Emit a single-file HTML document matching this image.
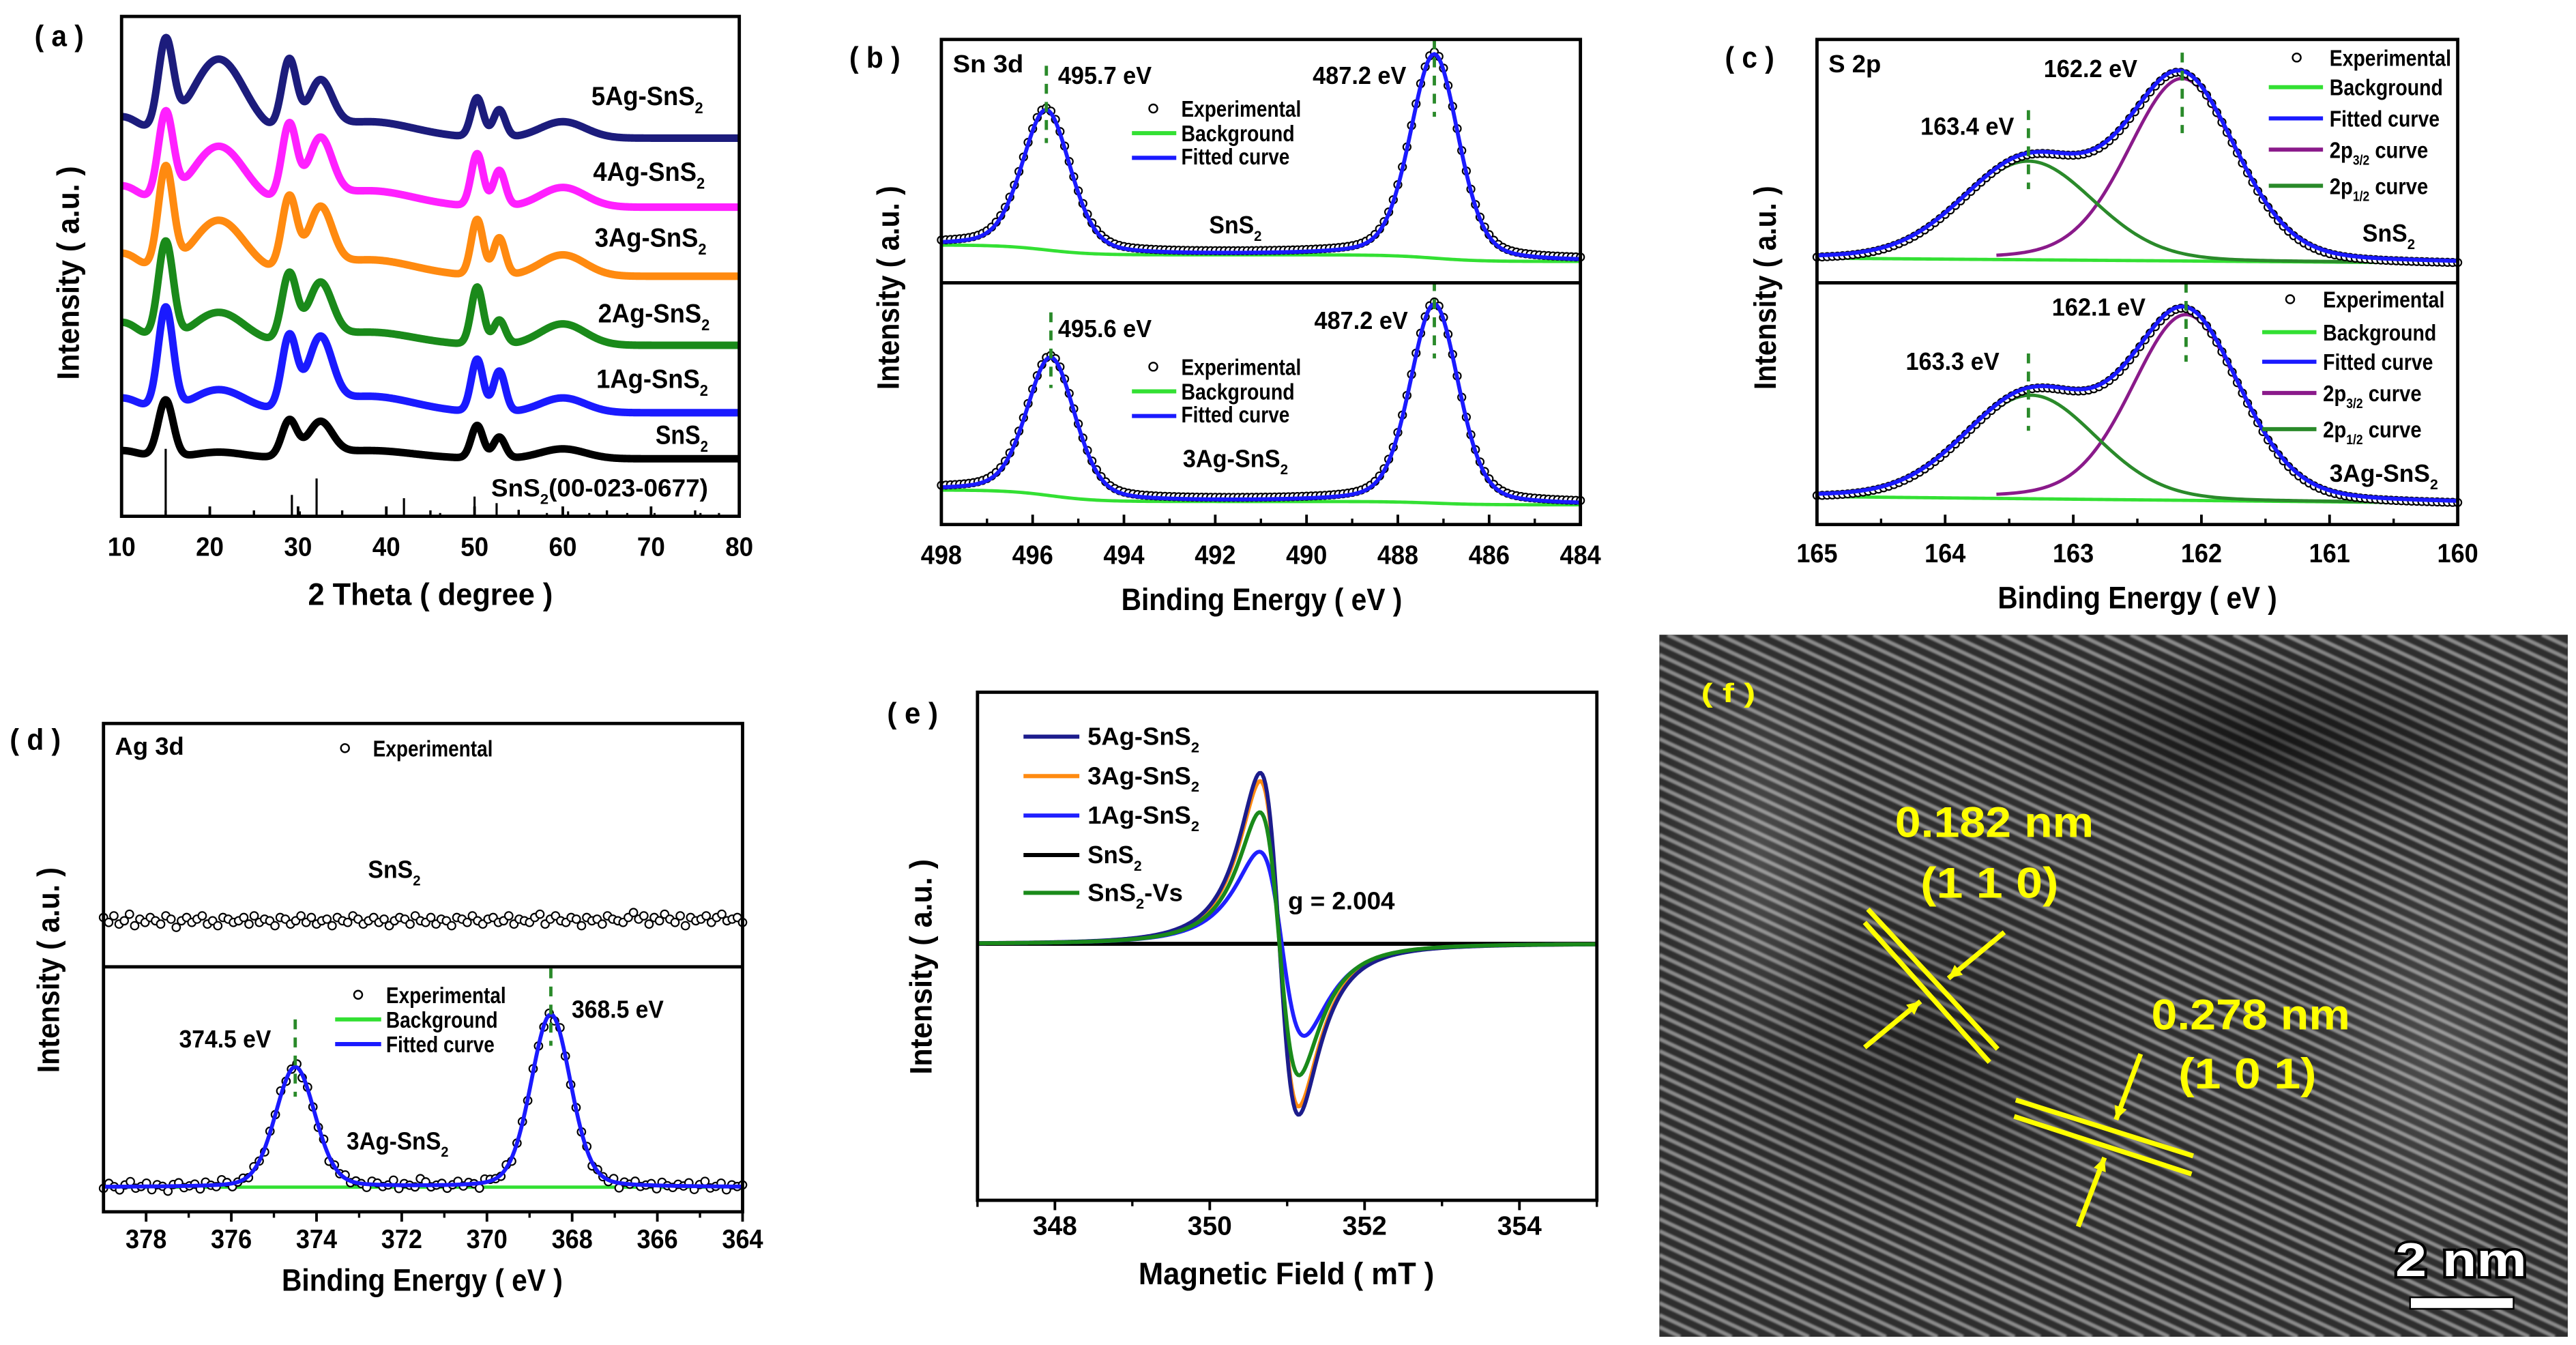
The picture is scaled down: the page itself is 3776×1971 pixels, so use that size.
<!DOCTYPE html>
<html>
<head>
<meta charset="utf-8">
<title>SnS2 characterization figure</title>
<style>
html,body{margin:0;padding:0;background:#fff;width:3776px;height:1971px;overflow:hidden;}
svg{display:block;font-family:"Liberation Sans",Arial,sans-serif;font-weight:bold;}
</style>
</head>
<body>
<svg id="fig" xmlns="http://www.w3.org/2000/svg" width="3776" height="1971" viewBox="0 0 1568 818" preserveAspectRatio="none" overflow="hidden">
<defs>
<filter id="soft"><feGaussianBlur stdDeviation="0.6"/></filter>
<radialGradient id="dark1"><stop offset="0" stop-color="#000" stop-opacity="0.55"/><stop offset="1" stop-color="#000" stop-opacity="0"/></radialGradient>
<radialGradient id="light1"><stop offset="0" stop-color="#fff" stop-opacity="0.15"/><stop offset="1" stop-color="#fff" stop-opacity="0"/></radialGradient>
<clipPath id="imgclip"><rect x="1010" y="386" width="553" height="427"/></clipPath>
</defs>
</svg>
<script>
// ---------- DATA ----------
// (a) XRD
const xrdSeries = ['5Ag-SnS2','4Ag-SnS2','3Ag-SnS2','2Ag-SnS2','1Ag-SnS2','SnS2'];
const xrdColors = ['#1c1c7c','#ff20ff','#ff8a10','#1a8a1a','#1a1aff','#000000'];
const xrdOffsets = [230,188,146,104,63,35];
const xrdLeftBg = [13,13,14,14,9,5];
const xrdPeakPos = [15,21,29,32.5,38,50.3,52.8,60];
const xrdPeakHwhm = [1.0,3.5,1.0,1.6,6,0.8,0.8,3];
const xrd5Ag = [54,48,44,30,10,24,17,10];
const xrd4Ag = [53,37,47,37,10,32,22,12];
const xrd3Ag = [62,34,45,37,10,34,23,13];
const xrd2Ag = [60,20,41,34,8,35,15,13];
const xrd1Ag = [62,14,44,41,10,32,25,9];
const xrdSnS2 = [35,4,22,20,5,20,13,6];
const xrdHeights = [xrd5Ag,xrd4Ag,xrd3Ag,xrd2Ag,xrd1Ag,xrdSnS2];
const refPos = [15,29.3,30.2,32.1,42,46.1,50,52.5,55,58.2,60.6,63,67.3,70.4,75.6,77.7];
const refH = [41,13,3,23,11,2,12,8,4,2,3,2,2,2,2,2];
const xrdTicks = [10,20,30,40,50,60,70,80];
// (b) Sn 3d
const snTopPos = [495.7,487.2];
const snTopH = [85,124];
const snBotPos = [495.6,487.2];
const snBotH = [84,121];
const snFwhm = [1.25,1.25];
const snTopBg = [13,4,6];
const snBotBg = [12,2,7];
const snTicks = [498,496,494,492,490,488,486,484];
// (c) S 2p
const sTopPos = [162.15,163.35];
const sTopH = [111,60];
const sBotPos = [162.12,163.33];
const sBotH = [113,63];
const sFwhm = [1.0,1.2];
const sTopBg = [15,12];
const sBotBg = [17,13];
const sTicks = [165,164,163,162,161,160];
// (d) Ag 3d
const agPos = [374.5,368.5];
const agH = [73,105];
const agFwhm = [1.1,1.1];
const agBg = 15;
const agTopLevel = 28;
const agTopNoise = [2,-1,3,-2,0,4,-3,1,-1,2,0,-2,3,1,-4,0,2,-1,1,3,-2,0,-3,2,1,-1,0,2,-2,3,-1,1,0,-3,2,1,-2,0,3,-1,2,-2,0,1,-3,2,0,-1,3,1,-2,0,2,-1,1,-3,0,2,1,-2,3,0,-1,2,-2,1,0,-3,2,1,-1,3,0,-2,1,2,-1,0,3,-2,1,0,-1,2,4,-2,1,3,0,-1,2,1,-3,2,0,1,-2,3,1,0,-1,2,5,1,3,-2,2,0,4,1,-1,3,-3,2,0,1,3,-1,2,4,0,1,2,-1];
const agBotNoise = [-1,2,0,-2,1,3,-1,0,2,-2,1,0,-3,1,2,-1,0,1,-2,2,0,-1,3,1,-2,0,1,-1,2,0,-2,1,0,3,-1,0,2,-2,1,0,-1,2,-3,1,0,2,-1,1,0,-2,2,1,-1,0,3,-2,1,0,-1,4,2,-1,0,1,-2,0,2,-1,1,0,-3,2,1,0,-1,2,-2,0,1,-1,2,0,-1,1,-2,3,0,-1,1,0,2,-2,1,0,-1,2,-3,1,0,2,-1,0,1,-2,2,0,-1,1,0,2,-2,1,3,-1,0,2,-2,1,0,1];
const agTicks = [378,376,374,372,370,368,366,364];
// (e) EPR
const eprSeries = ['5Ag-SnS2','3Ag-SnS2','1Ag-SnS2','SnS2','SnS2-Vs'];
const eprColors = ['#1c1c8c','#ff8a10','#2020ff','#000000','#1a8a1a'];
const eprCenter = [350.9,350.9,350.93,350.9,350.9];
const eprAmp = [104,99,56,0,80];
const eprWidth = [0.43,0.43,0.5,0.43,0.44];
const eprTicks = [348,350,352,354];

// ---------- HELPERS ----------
const NS = 'http://www.w3.org/2000/svg';
const svg = document.getElementById('fig');
function mk(tag, attrs, name, parent) {
  const el = document.createElementNS(NS, tag);
  for (const k in attrs) el.setAttribute(k, attrs[k]);
  
  
  (parent || svg).appendChild(el);
  return el;
}
function T(x, y, str, size, o) {
  o = o || {};
  const el = mk('text', {x: x, y: y, 'font-size': size, 'text-anchor': o.anchor || 'start', fill: o.fill || '#000'}, o.name || 'label', o.parent);
  if (o.w) { el.setAttribute('textLength', o.w); el.setAttribute('lengthAdjust', 'spacingAndGlyphs'); }
  if (o.rot) el.setAttribute('transform', 'rotate(-90 ' + x + ' ' + y + ')');
  if (o.stroke) { el.setAttribute('stroke', o.stroke); el.setAttribute('stroke-width', o.sw || 2); el.setAttribute('paint-order', 'stroke'); }
  const parts = str.split(/(\{[^}]*\})/).filter(p => p.length);
  let lowered = false;
  parts.forEach(p => {
    if (p[0] === '{') {
      const ts = mk('tspan', {'font-size': size * 0.6, dy: size * 0.3}, 'subscript', el);
      ts.textContent = p.slice(1, -1);
      lowered = true;
    } else {
      const ts = mk('tspan', lowered ? {dy: -size * 0.3} : {}, 'text-run', el);
      ts.textContent = p;
      lowered = false;
    }
  });
  return el;
}
function L(x1, y1, x2, y2, stroke, sw, name, extra, parent) {
  const a = {x1: x1, y1: y1, x2: x2, y2: y2, stroke: stroke, 'stroke-width': sw};
  if (extra) for (const k in extra) a[k] = extra[k];
  return mk('line', a, name, parent);
}
function P(pts, stroke, sw, name) {
  const d = pts.map((p, i) => (i ? 'L' : 'M') + p[0].toFixed(2) + ',' + p[1].toFixed(2)).join('');
  return mk('path', {d: d, fill: 'none', stroke: stroke, 'stroke-width': sw, 'stroke-linejoin': 'round'}, name);
}
function scale(d0, d1, p0, p1) { return v => p0 + (v - d0) / (d1 - d0) * (p1 - p0); }
function box(x0, y0, x1, y1, name) { mk('rect', {x: x0, y: y0, width: x1 - x0, height: y1 - y0, fill: 'none', stroke: '#000', 'stroke-width': 2}, name); }
function pv(x, c, fw, eta) { const t = (x - c) / fw; return eta / (1 + 4 * t * t) + (1 - eta) * Math.exp(-4 * Math.LN2 * t * t); }
function ticks(sx, vals, yAxis, dir, len, labelY, w, prefix) {
  vals.forEach((v, i) => {
    L(sx(v), yAxis, sx(v), yAxis + dir * len, '#000', 1.6, prefix + '-major-tick');
    T(sx(v), labelY, String(v), 16, {anchor: 'middle', w: w, name: prefix + '-tick-label'});
    if (i < vals.length - 1) {
      const m = (v + vals[i + 1]) / 2;
      L(sx(m), yAxis, sx(m), yAxis + dir * len * 0.6, '#000', 1.4, prefix + '-minor-tick');
    }
  });
}
function circles(pts, r, name) {
  pts.forEach(p => { mk('circle', {cx: p[0], cy: p[1], r: r, fill: '#fff', stroke: '#000', 'stroke-width': 0.9}, name); });
}
function dashMark(x, y0, y1, name) { L(x, y0, x, y1, '#2a8a2a', 2, name, {'stroke-dasharray': '6,5'}); }

// ---------- PANEL A ----------
(function () {
  const sx = scale(10, 80, 74, 450);
  const sy = v => 314 - v;
  T(21, 28, '( a )', 18, {w: 30, name: 'panel-a-label'});
  xrdSeries.forEach((nm, i) => {
    const pts = [];
    for (let x = 10; x <= 80.001; x += 0.07) {
      let v = xrdOffsets[i] + xrdLeftBg[i] * Math.exp(-Math.pow((x - 10) / 3, 2));
      xrdPeakPos.forEach((c, k) => { v += xrdHeights[i][k] * Math.exp(-Math.LN2 * Math.pow((x - c) / xrdPeakHwhm[k], 2)); });
      pts.push([sx(x), sy(v)]);
    }
    P(pts, xrdColors[i], 4.6, 'xrd-curve-' + nm.toLowerCase());
  });
  refPos.forEach((p, i) => { L(sx(p), 314, sx(p), sy(refH[i]), '#000', 1.3, 'reference-stick'); });
  box(74, 10, 450, 314, 'panel-a-plot-frame');
  ticks(sx, xrdTicks, 314, -1, 6, 338, 17, 'xrd-x');
  const lbl = [['5Ag-SnS{2}', 360, 64], ['4Ag-SnS{2}', 361, 110], ['3Ag-SnS{2}', 362, 150], ['2Ag-SnS{2}', 364, 196], ['1Ag-SnS{2}', 363, 236], ['SnS{2}', 399, 270]];
  lbl.forEach(l => T(l[1], l[2], l[0], 16, {w: l[0].length > 8 ? 68 : 32, name: 'series-label'}));
  T(299, 302, 'SnS{2}(00-023-0677)', 15, {w: 132, name: 'reference-label'});
  T(262, 368, '2 Theta ( degree )', 19, {anchor: 'middle', w: 149, name: 'x-axis-title'});
  T(48, 166, 'Intensity ( a.u. )', 19, {anchor: 'middle', w: 130, rot: true, name: 'y-axis-title'});
})();

// ---------- PANEL B ----------
(function () {
  const sx = scale(498, 484, 573, 962);
  const step = (x, c) => 1 / (1 + Math.exp(-(x - c) / 0.5));
  function fit(x, pos, h, bg) {
    let v = bg[0] + bg[1] * step(x, pos[1]) + bg[2] * step(x, pos[0]);
    pos.forEach((c, k) => { v += h[k] * pv(x, c, snFwhm[k], 0.3); });
    return v;
  }
  function bgv(x, pos, bg) { return bg[0] + bg[1] * step(x, pos[1]) + bg[2] * step(x, pos[0]); }
  [[snTopPos, snTopH, snTopBg, 172, 'top'], [snBotPos, snBotH, snBotBg, 319, 'bottom']].forEach(s => {
    const [pos, h, bg, yb, tag] = s;
    const bgp = [], fp = [], cp = [];
    for (let x = 498; x >= 483.99; x -= 0.05) { bgp.push([sx(x), yb - bgv(x, pos, bg)]); fp.push([sx(x), yb - fit(x, pos, h, bg)]); }
    for (let x = 498; x >= 483.99; x -= 0.1) cp.push([sx(x), yb - fit(x, pos, h, bg) - 1.2]);
    P(bgp, '#33e033', 2, 'sn-background-' + tag);
    circles(cp, 2.3, 'sn-experimental-point');
    P(fp, '#1a1aff', 2.4, 'sn-fitted-curve-' + tag);
  });
  dashMark(sx(495.7), 40, 87, 'sn-peak-marker');
  dashMark(sx(487.2), 24, 71, 'sn-peak-marker');
  dashMark(sx(495.6), 190, 236, 'sn-peak-marker');
  dashMark(sx(487.2), 171, 218, 'sn-peak-marker');
  box(573, 24, 962, 319, 'panel-b-plot-frame');
  L(573, 172, 962, 172, '#000', 2, 'panel-b-divider');
  ticks(sx, snTicks, 319, -1, 6, 343, 25, 'sn-x');
  T(517, 41, '( b )', 18, {w: 31, name: 'panel-b-label'});
  T(580, 44, 'Sn 3d', 15, {w: 43, name: 'sn-region-label'});
  T(644, 51, '495.7 eV', 15, {w: 57, name: 'peak-label'});
  T(799, 51, '487.2 eV', 15, {w: 57, name: 'peak-label'});
  T(644, 205, '495.6 eV', 15, {w: 57, name: 'peak-label'});
  T(800, 200, '487.2 eV', 15, {w: 57, name: 'peak-label'});
  [[66, 'top'], [223, 'bottom']].forEach(l => {
    const y = l[0];
    mk('circle', {cx: 702, cy: y, r: 2.5, fill: '#fff', stroke: '#000', 'stroke-width': 1}, 'legend-experimental-marker');
    T(719, y + 5, 'Experimental', 14, {w: 73, name: 'legend-entry'});
    L(689, y + 15, 716, y + 15, '#33e033', 2.5, 'legend-background-line');
    T(719, y + 20, 'Background', 14, {w: 69, name: 'legend-entry'});
    L(689, y + 30, 716, y + 30, '#1a1aff', 2.5, 'legend-fitted-line');
    T(719, y + 34, 'Fitted curve', 14, {w: 66, name: 'legend-entry'});
  });
  T(736, 142, 'SnS{2}', 15, {w: 32, name: 'sample-label'});
  T(720, 284, '3Ag-SnS{2}', 15, {w: 64, name: 'sample-label'});
  T(768, 371, 'Binding Energy ( eV )', 19, {anchor: 'middle', w: 171, name: 'x-axis-title'});
  T(547, 175, 'Intensity ( a.u. )', 19, {anchor: 'middle', w: 124, rot: true, name: 'y-axis-title'});
})();

// ---------- PANEL C ----------
(function () {
  const sx = scale(165, 160, 1106, 1496);
  const bgAt = (x, bg) => bg[1] + (bg[0] - bg[1]) * (x - 160) / 5;
  [[sTopPos, sTopH, sTopBg, 172, 'top'], [sBotPos, sBotH, sBotBg, 319, 'bottom']].forEach(s => {
    const [pos, h, bg, yb, tag] = s;
    const bgp = [], p32 = [], p12 = [], fp = [], cp = [];
    for (let x = 165; x >= 159.99; x -= 0.02) {
      const b = bgAt(x, bg);
      const c1 = h[0] * pv(x, pos[0], sFwhm[0], 0.2), c2 = h[1] * pv(x, pos[1], sFwhm[1], 0.1);
      bgp.push([sx(x), yb - b]);
      if (x <= 163.6 && x >= 160.5) p32.push([sx(x), yb - b - c1]);
      p12.push([sx(x), yb - b - c2]);
      fp.push([sx(x), yb - b - c1 - c2]);
    }
    for (let x = 165; x >= 159.99; x -= 0.04) {
      const b = bgAt(x, bg);
      cp.push([sx(x), yb - b - h[0] * pv(x, pos[0], sFwhm[0], 0.2) - h[1] * pv(x, pos[1], sFwhm[1], 0.1) + 1]);
    }
    P(bgp, '#33e033', 2, 's-background-' + tag);
    P(p32, '#8a1a8a', 2, 's-2p32-curve-' + tag);
    P(p12, '#2a8a2a', 2, 's-2p12-curve-' + tag);
    circles(cp, 2.3, 's-experimental-point');
    P(fp, '#1a1aff', 2.4, 's-fitted-curve-' + tag);
  });
  dashMark(sx(163.35), 67, 115, 's-peak-marker');
  dashMark(sx(162.15), 32, 81, 's-peak-marker');
  dashMark(sx(163.35), 215, 262, 's-peak-marker');
  dashMark(sx(162.12), 172, 220, 's-peak-marker');
  box(1106, 24, 1496, 319, 'panel-c-plot-frame');
  L(1106, 172, 1496, 172, '#000', 2, 'panel-c-divider');
  ticks(sx, sTicks, 319, -1, 6, 342, 25, 's-x');
  T(1050, 41, '( c )', 18, {w: 30, name: 'panel-c-label'});
  T(1113, 44, 'S 2p', 15, {w: 32, name: 's-region-label'});
  T(1244, 47, '162.2 eV', 15, {w: 57, name: 'peak-label'});
  T(1169, 82, '163.4 eV', 15, {w: 57, name: 'peak-label'});
  T(1249, 192, '162.1 eV', 15, {w: 57, name: 'peak-label'});
  T(1160, 225, '163.3 eV', 15, {w: 57, name: 'peak-label'});
  [[35, 1398, 1418, 18, 37, 56, 78], [182, 1394, 1414, 20, 38, 57, 79]].forEach(l => {
    const [y, cx, tx, d1, d2, d3, d4] = l;
    mk('circle', {cx: cx, cy: y, r: 2.5, fill: '#fff', stroke: '#000', 'stroke-width': 1}, 'legend-experimental-marker');
    T(tx, y + 5, 'Experimental', 14, {w: 74, name: 'legend-entry'});
    L(tx - 37, y + d1, tx - 4, y + d1, '#33e033', 2.5, 'legend-background-line');
    T(tx, y + d1 + 5, 'Background', 14, {w: 69, name: 'legend-entry'});
    L(tx - 37, y + d2, tx - 4, y + d2, '#1a1aff', 2.5, 'legend-fitted-line');
    T(tx, y + d2 + 5, 'Fitted curve', 14, {w: 67, name: 'legend-entry'});
    L(tx - 37, y + d3, tx - 4, y + d3, '#8a1a8a', 2.5, 'legend-2p32-line');
    T(tx, y + d3 + 5, '2p{3/2} curve', 14, {w: 60, name: 'legend-entry'});
    L(tx - 37, y + d4, tx - 4, y + d4, '#2a8a2a', 2.5, 'legend-2p12-line');
    T(tx, y + d4 + 5, '2p{1/2} curve', 14, {w: 60, name: 'legend-entry'});
  });
  T(1438, 147, 'SnS{2}', 15, {w: 32, name: 'sample-label'});
  T(1418, 293, '3Ag-SnS{2}', 15, {w: 66, name: 'sample-label'});
  T(1301, 370, 'Binding Energy ( eV )', 19, {anchor: 'middle', w: 170, name: 'x-axis-title'});
  T(1081, 175, 'Intensity ( a.u. )', 19, {anchor: 'middle', w: 124, rot: true, name: 'y-axis-title'});
})();

// ---------- PANEL D ----------
(function () {
  const sx = scale(379, 364, 63, 452);
  const n = agTopNoise.length;
  const top = agTopNoise.map((e, i) => { const x = 379 - 15 * i / (n - 1); return [sx(x), 588 - agTopLevel - e]; });
  circles(top, 2.4, 'ag-snS2-experimental-point');
  const fit = x => agBg + agPos.reduce((s, c, k) => s + agH[k] * pv(x, c, agFwhm[k], 0.2), 0);
  const bgp = [], fp = [];
  for (let x = 379; x >= 363.99; x -= 0.05) { bgp.push([sx(x), 737 - agBg]); fp.push([sx(x), 737 - fit(x)]); }
  P(bgp, '#33e033', 2, 'ag-background');
  const m = agBotNoise.length;
  const bot = agBotNoise.map((e, i) => { const x = 379 - 15 * i / (m - 1); return [sx(x), 737 - fit(x) - e]; });
  circles(bot, 2.4, 'ag-experimental-point');
  P(fp, '#1a1aff', 2.4, 'ag-fitted-curve');
  dashMark(sx(374.5), 620, 667, 'ag-peak-marker');
  dashMark(sx(368.5), 589, 636, 'ag-peak-marker');
  box(63, 440, 452, 737, 'panel-d-plot-frame');
  L(63, 588, 452, 588, '#000', 2, 'panel-d-divider');
  ticks(sx, agTicks, 737, 1, 6, 759, 25, 'ag-x');
  T(6, 456, '( d )', 18, {w: 31, name: 'panel-d-label'});
  T(70, 459, 'Ag 3d', 15, {w: 42, name: 'ag-region-label'});
  mk('circle', {cx: 210, cy: 455, r: 2.5, fill: '#fff', stroke: '#000', 'stroke-width': 1}, 'legend-experimental-marker');
  T(227, 460, 'Experimental', 14, {w: 73, name: 'legend-entry'});
  T(224, 534, 'SnS{2}', 15, {w: 32, name: 'sample-label'});
  mk('circle', {cx: 218, cy: 605, r: 2.5, fill: '#fff', stroke: '#000', 'stroke-width': 1}, 'legend-experimental-marker');
  T(235, 610, 'Experimental', 14, {w: 73, name: 'legend-entry'});
  L(204, 620, 232, 620, '#33e033', 2.5, 'legend-background-line');
  T(235, 625, 'Background', 14, {w: 68, name: 'legend-entry'});
  L(204, 635, 232, 635, '#1a1aff', 2.5, 'legend-fitted-line');
  T(235, 640, 'Fitted curve', 14, {w: 66, name: 'legend-entry'});
  T(109, 637, '374.5 eV', 15, {w: 56, name: 'peak-label'});
  T(348, 619, '368.5 eV', 15, {w: 56, name: 'peak-label'});
  T(211, 699, '3Ag-SnS{2}', 15, {w: 62, name: 'sample-label'});
  T(257, 785, 'Binding Energy ( eV )', 19, {anchor: 'middle', w: 171, name: 'x-axis-title'});
  T(36, 590, 'Intensity ( a.u. )', 19, {anchor: 'middle', w: 125, rot: true, name: 'y-axis-title'});
})();

// ---------- PANEL E ----------
(function () {
  const sx = scale(347, 355, 595, 972);
  const y0 = 574;
  const order = [3, 2, 1, 0, 4];
  order.forEach(i => {
    const w = eprWidth[i], c = eprCenter[i];
    const fmax = (w / Math.sqrt(3)) / Math.pow((4 / 3) * w * w, 2);
    const pts = [];
    for (let x = 347; x <= 355.001; x += 0.02) {
      const d = x - c;
      const v = eprAmp[i] * (-d / Math.pow(d * d + w * w, 2)) / fmax;
      pts.push([sx(x), y0 - v]);
    }
    P(pts, eprColors[i], 2.4, 'epr-curve-' + eprSeries[i].toLowerCase());
  });
  box(595, 421, 972, 730, 'panel-e-plot-frame');
  ticks(sx, eprTicks, 730, 1, 6, 751, 27, 'epr-x');
  L(sx(347), 730, sx(347), 734, '#000', 1.4, 'epr-x-minor-tick');
  L(sx(355), 730, sx(355), 734, '#000', 1.4, 'epr-x-minor-tick');
  T(540, 440, '( e )', 18, {w: 31, name: 'panel-e-label'});
  const labels = ['5Ag-SnS{2}', '3Ag-SnS{2}', '1Ag-SnS{2}', 'SnS{2}', 'SnS{2}-Vs'];
  const ly = [448, 472, 496, 520, 543];
  eprSeries.forEach((s, i) => {
    L(623, ly[i], 657, ly[i], eprColors[i], 2.5, 'legend-line-' + s.toLowerCase());
    T(662, ly[i] + 5, labels[i], 15, {w: i === 3 ? 33 : (i === 4 ? 58 : 68), name: 'legend-entry'});
  });
  T(784, 553, 'g = 2.004', 15, {w: 65, name: 'g-value-label'});
  T(783, 781, 'Magnetic Field ( mT )', 19, {anchor: 'middle', w: 180, name: 'x-axis-title'});
  T(567, 588, 'Intensity ( a.u. )', 19, {anchor: 'middle', w: 131, rot: true, name: 'y-axis-title'});
})();

// ---------- PANEL F ----------
(function () {
  const g = mk('g', {'clip-path': 'url(#imgclip)'}, 'hrtem-image');
  mk('rect', {x: 1010, y: 386, width: 553, height: 427, fill: '#2e2e2e'}, 'image-background', g);
  const fr = mk('g', {filter: 'url(#soft)'}, 'lattice-fringes', g);
  const slope = Math.tan(25 * Math.PI / 180);
  const X0 = 1010, X1 = 1563, Y0 = 386, Y1 = 813;
  for (let y = Y0 - (X1 - X0) * slope; y < Y1; y += 7.3) {
    // line: yy = y + slope*(x - X0); clip to the image rectangle
    let xa = Math.max(X0, X0 + (Y0 - y) / slope);
    let xb = Math.min(X1, X0 + (Y1 - y) / slope);
    if (xb <= xa) continue;
    L(xa, y + slope * (xa - X0), xb, y + slope * (xb - X0), '#8a8a8a', 2.4, 'lattice-fringe-line', null, fr);
  }
  mk('ellipse', {cx: 1380, cy: 450, rx: 170, ry: 60, fill: 'url(#dark1)'}, 'dark-region', g);
  mk('ellipse', {cx: 1170, cy: 640, rx: 140, ry: 110, fill: 'url(#dark1)', opacity: 0.6}, 'dark-region', g);
  mk('ellipse', {cx: 1070, cy: 520, rx: 60, ry: 130, fill: 'url(#light1)'}, 'light-region', g);
  mk('ellipse', {cx: 1480, cy: 640, rx: 80, ry: 130, fill: 'url(#light1)'}, 'light-region', g);
  const Y = '#ffff00';
  L(1137, 553, 1216, 638, Y, 3, 'lattice-fringe-110');
  L(1135, 561, 1211, 646, Y, 3, 'lattice-fringe-110');
  L(1227, 669, 1335, 703, Y, 3, 'lattice-fringe-101');
  L(1226, 679, 1334, 714, Y, 3, 'lattice-fringe-101');
  function arrow(x1, y1, x2, y2) {
    L(x1, y1, x2, y2, Y, 3, 'arrow-shaft');
    const a = Math.atan2(y2 - y1, x2 - x1), s = 9;
    const p1 = [x2 - s * Math.cos(a - 0.45), y2 - s * Math.sin(a - 0.45)];
    const p2 = [x2 - s * Math.cos(a + 0.45), y2 - s * Math.sin(a + 0.45)];
    mk('polygon', {points: x2 + ',' + y2 + ' ' + p1.join(',') + ' ' + p2.join(','), fill: Y}, 'arrow-head');
  }
  arrow(1220, 567, 1186, 595);
  arrow(1135, 637, 1169, 609);
  arrow(1303, 641, 1288, 681);
  arrow(1265, 746, 1281, 704);
  T(1214, 509, '0.182 nm', 26, {anchor: 'middle', w: 121, fill: Y, name: 'd-spacing-label'});
  T(1211, 546, '(1 1 0)', 26, {anchor: 'middle', w: 84, fill: Y, name: 'plane-label'});
  T(1370, 626, '0.278 nm', 26, {anchor: 'middle', w: 121, fill: Y, name: 'd-spacing-label'});
  T(1368, 662, '(1 0 1)', 26, {anchor: 'middle', w: 84, fill: Y, name: 'plane-label'});
  T(1052, 427, '( f )', 16, {anchor: 'middle', w: 33, fill: Y, name: 'panel-f-label'});
  T(1498, 776, '2 nm', 29, {anchor: 'middle', w: 80, fill: '#fff', stroke: '#000', sw: 3, name: 'scale-bar-label'});
  mk('rect', {x: 1467, y: 789, width: 63, height: 7, fill: '#fff', stroke: '#000', 'stroke-width': 1}, 'scale-bar');
})();
</script>
</body>
</html>
